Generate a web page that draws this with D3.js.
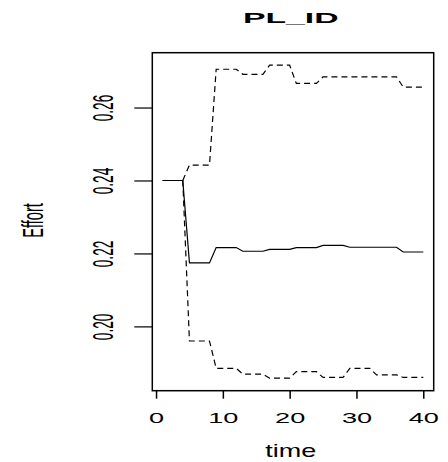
<!DOCTYPE html>
<html>
<head>
<meta charset="utf-8">
<script src="https://cdn.jsdelivr.net/npm/d3@7"></script>
<style>
  body { margin: 0; background: #fff; }
  text { font-family: "Liberation Sans", Arial, sans-serif; fill: #000; }
</style>
</head>
<body>
<script>
const width = 448, height = 462;

// time steps
const time = [1,2,3,4,5,6,7,8,9,10,11,12,13,14,15,16,17,18,19,20,
              21,22,23,24,25,26,27,28,29,30,31,32,33,34,35,36,37,38,39,40];

// mean effort (solid)
const effortMean = [0.2400,0.2400,0.2400,0.2400,0.2174,0.2174,0.2174,0.2174,
                    0.2216,0.2216,0.2216,0.2216,0.2206,0.2206,0.2206,0.2206,
                    0.2211,0.2211,0.2211,0.2211,0.2216,0.2216,0.2216,0.2216,
                    0.2222,0.2222,0.2222,0.2222,0.2217,0.2217,0.2217,0.2217,
                    0.2217,0.2217,0.2217,0.2217,0.2204,0.2204,0.2204,0.2204];

// upper band (dashed)
const effortUpper = [0.2400,0.2400,0.2400,0.2400,0.2442,0.2442,0.2442,0.2442,
                     0.2705,0.2705,0.2705,0.2705,0.2691,0.2691,0.2691,0.2691,
                     0.2716,0.2716,0.2716,0.2716,0.2666,0.2666,0.2666,0.2666,
                     0.2684,0.2684,0.2684,0.2684,0.2684,0.2684,0.2684,0.2684,
                     0.2684,0.2684,0.2684,0.2684,0.2656,0.2656,0.2656,0.2656];

// lower band (dashed)
const effortLower = [0.2400,0.2400,0.2400,0.2400,0.1960,0.1960,0.1960,0.1960,
                     0.1885,0.1885,0.1885,0.1885,0.1869,0.1869,0.1869,0.1869,
                     0.1858,0.1858,0.1858,0.1858,0.1876,0.1876,0.1876,0.1876,
                     0.1860,0.1860,0.1860,0.1860,0.1885,0.1885,0.1885,0.1885,
                     0.1867,0.1867,0.1867,0.1867,0.1860,0.1860,0.1860,0.1860];

const xTicks = [0, 10, 20, 30, 40];
const yTicks = [0.20, 0.22, 0.24, 0.26];

const plot = {left: 152.3, right: 433.7, top: 52.7, bottom: 390.7};

// R style 4% padding on the data range
function padded(lo, hi) {
    let e = (hi - lo) * 0.04;
    return [lo - e, hi + e];
}

const x = d3.scaleLinear()
    .domain(padded(d3.min(time), d3.max(time)))
    .range([plot.left, plot.right]);

const allY = effortUpper.concat(effortLower, effortMean);
const y = d3.scaleLinear()
    .domain(padded(d3.min(allY), d3.max(allY)))
    .range([plot.bottom, plot.top]);

const svg = d3.select('body').append('svg')
    .attr('width', width)
    .attr('height', height);

const line = d3.line()
    .x(function(d, i) { return x(time[i]); })
    .y(function(d) { return y(d); });

// series
svg.append('path')
    .datum(effortMean)
    .attr('d', line)
    .attr('fill', 'none')
    .attr('stroke', '#000')
    .attr('stroke-width', 1.2);

[effortUpper, effortLower].forEach(function(s) {
    svg.append('path')
        .datum(s)
        .attr('d', line)
        .attr('fill', 'none')
        .attr('stroke', '#000')
        .attr('stroke-width', 1.2)
        .attr('stroke-dasharray', '6,4');
});

// box
svg.append('rect')
    .attr('x', plot.left)
    .attr('y', plot.top)
    .attr('width', plot.right - plot.left)
    .attr('height', plot.bottom - plot.top)
    .attr('fill', 'none')
    .attr('stroke', '#000')
    .attr('stroke-width', 1.5);

// x axis
const gx = svg.append('g')
    .attr('transform', 'translate(0,' + plot.bottom + ')')
    .call(d3.axisBottom(x).tickValues(xTicks).tickSize(8).tickPadding(0).tickFormat(d3.format('d')));
gx.select('.domain').remove();
gx.selectAll('line').attr('stroke', '#000').attr('stroke-width', 1.5);
gx.selectAll('text')
    .attr('y', null).attr('dy', null)
    .attr('transform', 'translate(0,32.6) scale(1.75,1)')
    .style('font-size', '15.5px')
    .attr('fill', '#000');

// y axis
const gy = svg.append('g')
    .attr('transform', 'translate(' + plot.left + ',0)')
    .call(d3.axisLeft(y).tickValues(yTicks).tickSize(18).tickFormat(d3.format('.2f')));
gy.select('.domain').remove();
gy.selectAll('line').attr('stroke', '#000').attr('stroke-width', 1.2);
gy.selectAll('text')
    .attr('x', null).attr('dy', null)
    .attr('text-anchor', 'middle')
    .attr('transform', 'translate(-39.6,0) scale(2.1,1) rotate(-90)')
    .style('font-size', '13.7px')
    .attr('fill', '#000');

// title and labels
svg.append('text')
    .attr('text-anchor', 'middle')
    .attr('transform', 'translate(290.8,23.3) scale(2.25,1)')
    .style('font-size', '15px')
    .style('font-weight', 'bold')
    .text('PL_ID');

svg.append('text')
    .attr('text-anchor', 'middle')
    .attr('transform', 'translate(290.7,457) scale(1.5,1)')
    .style('font-size', '18px')
    .text('time');

svg.append('text')
    .attr('text-anchor', 'middle')
    .attr('transform', 'translate(43.3,220.5) scale(2.0,1) rotate(-90)')
    .style('font-size', '14.6px')
    .text('Effort');
</script>
</body>
</html>
